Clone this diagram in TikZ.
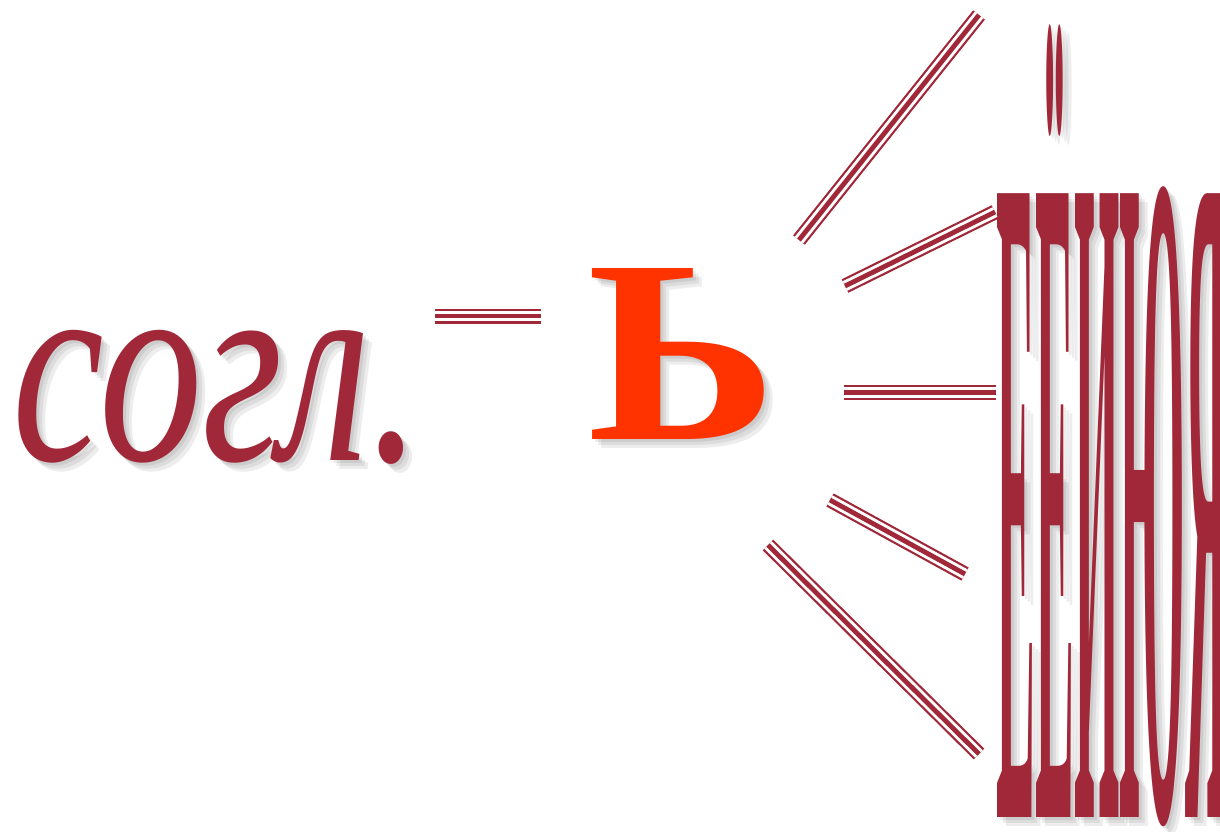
\documentclass[tikz,border=0pt]{standalone}
\usepackage{fontspec}
\setmainfont{Liberation Serif}
\usepackage{graphicx}
\definecolor{cred}{RGB}{160,40,56}
\definecolor{corange}{RGB}{255,51,0}
\tikzset{
  tri/.style={draw=cred, line width=15pt,
    postaction={draw=white, line width=10.6pt},
    postaction={draw=cred, line width=4.8pt}},
  lbl/.style={inner sep=0pt, anchor=base west},
  shd/.style={lbl, text=black, opacity=0.07},
}
\newcommand{\txtSogl}{\resizebox{410pt}{130pt}{\itshape согл.}}
\newcommand{\txtSoft}{\resizebox{190pt}{171pt}{\bfseries Ь}}
\newcommand{\txtVow}{\resizebox{231pt}{792pt}{\bfseries ЕЁИЮЯ}}
\begin{document}
\begin{tikzpicture}[x=1pt, y=-1pt]
\useasboundingbox (0,0) rectangle (1220,831);
% shadows
\foreach \d [count=\i] in {3,6,9} {
  \node[shd] (s1\i) at (12+\d, 460+\d) {\txtSogl};
  \node[shd] (s2\i) at (587+\d, 439+\d) {\txtSoft};
  \node[shd] (s3\i) at (996+\d, 817+\d) {\txtVow};
}
% texts
\node[lbl, text=cred] (sogl) at (12,460) {\txtSogl};
\node[lbl, text=corange] (soft) at (587,439) {\txtSoft};
\node[lbl, text=cred] (vow) at (996,817) {\txtVow};
% connector end points
\coordinate (a0) at (435,316); \coordinate (b0) at (541,316);
\coordinate (a1) at (799,240); \coordinate (b1) at (979,15);
\coordinate (a2) at (845,286); \coordinate (b2) at (995,212);
\coordinate (a3) at (844,392.5); \coordinate (b3) at (996,392.5);
\coordinate (a4) at (830,500); \coordinate (b4) at (965,574);
\coordinate (a5) at (768,545); \coordinate (b5) at (979,754);
\foreach \i in {0,...,5} { \path[tri] (a\i) -- (b\i); }
\end{tikzpicture}
\end{document}
